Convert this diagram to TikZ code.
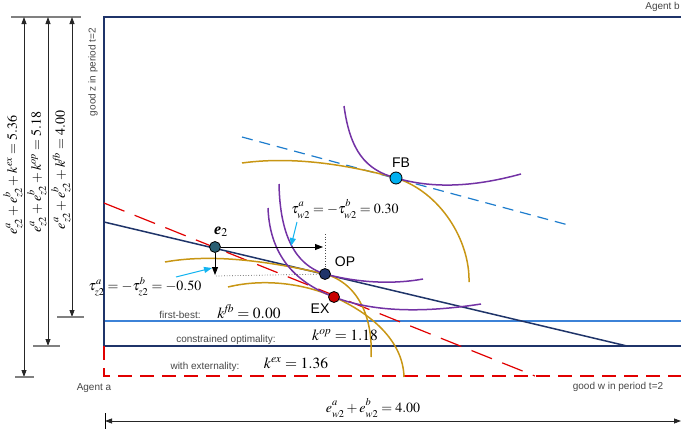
\documentclass[tikz,border=0pt]{standalone}
\usepackage[no-math]{fontspec}
\usepackage{mathptmx}
\setmainfont{Liberation Sans}
\newfontfamily\timesf{Liberation Serif}
\usetikzlibrary{arrows.meta}
\newcommand\supsub[2]{^{\raise1.5pt\hbox{$\scriptstyle #1$}}_{\lower1.5pt\hbox{$\scriptstyle #2$}}}
\definecolor{navy}{RGB}{31,52,105}
\definecolor{fbblue}{RGB}{60,130,215}
\definecolor{dashblue}{RGB}{30,125,205}
\definecolor{pur}{RGB}{115,50,165}
\definecolor{gold}{RGB}{200,150,20}
\definecolor{exred}{RGB}{225,0,0}
\definecolor{cyanarr}{RGB}{20,180,240}
\definecolor{txtgray}{RGB}{70,70,70}
\begin{document}
\begin{tikzpicture}[x=1pt,y=-1pt,
  frame/.style={navy, line width=1.6pt},
  fbline/.style={fbblue, line width=2pt},
  exline/.style={exred, line width=1.3pt, dash pattern=on 14pt off 8pt},
  exslant/.style={exred, line width=1.2pt, dash pattern=on 22pt off 11pt},
  bluedash/.style={dashblue, line width=1.2pt, dash pattern=on 11pt off 7pt},
  icb/.style={pur, line width=1.5pt},
  ica/.style={gold, line width=1.5pt},
  pt/.style={circle, draw=black, line width=0.8pt, minimum size=11pt, inner sep=0pt},
  arr/.style={black, line width=0.9pt, -{Triangle[length=8pt,width=6pt]}},
  carr/.style={cyanarr, line width=1pt, -{Triangle[length=8pt,width=6pt]}},
  dim/.style={black!85, line width=0.8pt, {Triangle[length=7pt,width=5pt]}-{Triangle[length=7pt,width=5pt]}},
  tick/.style={gray, line width=1.2pt},
  mlab/.style={font=\fontsize{14}{16}\selectfont, inner sep=0pt},
  klab/.style={font=\fontsize{15.5}{17}\selectfont, inner sep=0pt},
  slab/.style={font=\fontsize{10}{11}\selectfont, text=txtgray, inner sep=0pt},
  plab/.style={font=\fontsize{14}{16}\selectfont, inner sep=0pt}
]
\useasboundingbox (0,0) rectangle (681,434);

% coordinates
\coordinate (tl) at (104,17);
\coordinate (tr) at (681,17);
\coordinate (bl) at (104,346);
\coordinate (br) at (681,346);
\coordinate (fbl) at (104,321);
\coordinate (fbr) at (681,321);
\coordinate (exl) at (104,376);
\coordinate (exr) at (681,376);

% frame lines
\draw[fbline] (fbl) -- (fbr);
\draw[frame] (tr) -- (tl) -- (bl);
\draw[frame] (bl) -- (br);
\draw[exline] (bl) -- (exl) -- (exr);

% budget lines
\coordinate (b1) at (104,222);
\coordinate (b2) at (627,346);
\draw[navy, line width=1.5pt] (b1) -- (b2);
\coordinate (r1) at (104,203);
\coordinate (r2) at (535,376);
\draw[exslant] (r1) -- (r2);
\coordinate (d1) at (242,137);
\coordinate (d2) at (572,226);
\draw[bluedash] (d1) -- (d2);

% agent a indifference curves (gold)
\draw[ica] (242,163) .. controls (300,155) and (360,168) .. (396,178)
                     .. controls (440,192) and (470,240) .. (469,282);
\draw[ica] (165,262) .. controls (220,252) and (285,265) .. (325,274)
                     .. controls (360,284) and (373,320) .. (371,357);
\draw[ica] (228,287) .. controls (265,278) and (305,284) .. (334,297)
                     .. controls (370,313) and (403,340) .. (404,377);

% agent b indifference curves (purple)
\draw[icb] (344,106) .. controls (350,150) and (365,170) .. (396,178)
                     .. controls (430,188) and (470,188) .. (521,174);
\draw[icb] (279,184) .. controls (280,235) and (295,265) .. (325,274)
                     .. controls (355,282) and (390,285) .. (423,279);
\draw[icb] (268,208) .. controls (270,260) and (300,284) .. (334,297)
                     .. controls (365,309) and (410,315) .. (481,304);

% dotted guides
\coordinate (dv) at (325,234);
\coordinate (dh) at (216,276);

% points
\node[pt, fill={rgb,255:red,40;green,95;blue,115}] (E2) at (215,247) {};
\node[pt, fill=navy] (OP) at (325,274) {};
\node[pt, fill={rgb,255:red,200;green,0;blue,0}] (EX) at (334,297) {};
\node[pt, fill={rgb,255:red,0;green,176;blue,240}, minimum size=12pt] (FB) at (396,178) {};

\draw[black!70, line width=0.7pt, dotted] (dv) -- (OP);
\draw[black!70, line width=0.7pt, dotted] (dh) -- (OP);

% arrows from e2
\coordinate (ha) at (323,247);
\coordinate (va) at (215,275);
\draw[arr] (E2) -- (ha);
\draw[arr] (E2) -- (va);

% cyan pointers
\coordinate (c1s) at (297,222);
\coordinate (c1e) at (291,246);
\coordinate (c2s) at (176,277);
\coordinate (c2e) at (212,268);
\draw[carr] (c1s) -- (c1e);
\draw[carr] (c2s) -- (c2e);

% point labels
\node[plab] (lFB) at (401,163) {FB};
\node[plab] (lOP) at (345,262) {OP};
\node[plab] (lEX) at (320,309) {EX};
\node[inner sep=0pt, font=\fontsize{16}{18}\selectfont] (le2) at (221,232) {{\timesf\bfseries\itshape e}$_2$};

% tau labels
\node[mlab] (tw) at (345,209) {$\tau\supsub{a}{w2}=-\tau\supsub{b}{w2}=0.30$};
\node[mlab] (tz) at (145,287) {$\tau\supsub{a}{z2}=-\tau\supsub{b}{z2}=-0.50$};

% k labels
\node[slab] (sfb) at (180,315) {first-best:};
\node[klab] (kfb) at (249,312) {$k^{\mathit{fb}}=0.00$};
\node[slab] (sop) at (226,340) {constrained optimality:};
\node[klab] (kop) at (345,335) {$k^{\mathit{op}}=1.18$};
\node[slab] (sex) at (205,367) {with externality:};
\node[klab] (kex) at (296,363) {$k^{\mathit{ex}}=1.36$};

% axis labels
\node[slab, anchor=east] (ab) at (680,7) {Agent b};
\node[slab] (aa) at (94,388) {Agent a};
\node[slab] (gw) at (618,387) {good w in period t=2};
\node[slab, rotate=90] (gz) at (93,72) {good z in period t=2};

% bottom dimension
\coordinate (bw1) at (105,421);
\coordinate (bw2) at (681,421);
\coordinate (bt1) at (105,413);
\coordinate (bt2) at (105,429);
\draw[dim] (bw1) -- (bw2);
\draw[black, line width=1pt] (bt1) -- (bt2);
\node[mlab] (ew) at (373,408) {$e\supsub{a}{w2}+e\supsub{b}{w2}=4.00$};

% left dimensions
\coordinate (tt1) at (11,17);
\coordinate (tt2) at (81,17);
\draw[tick] (tt1) -- (tt2);
\coordinate (a1t) at (24,17);
\coordinate (a1b) at (24,377);
\coordinate (a2t) at (48,17);
\coordinate (a2b) at (48,346);
\coordinate (a3t) at (72,17);
\coordinate (a3b) at (72,317);
\draw[dim] (a1b) -- (a1t);
\draw[dim] (a2b) -- (a2t);
\draw[dim] (a3b) -- (a3t);
\coordinate (k1a) at (15,377);
\coordinate (k1b) at (34,377);
\coordinate (k2a) at (33,346);
\coordinate (k2b) at (60,346);
\coordinate (k3a) at (57,317);
\coordinate (k3b) at (84,317);
\draw[tick] (k1a) -- (k1b);
\draw[tick] (k2a) -- (k2b);
\draw[tick] (k3a) -- (k3b);
\node[mlab, rotate=90] (l1) at (13,175) {$e\supsub{a}{z2}+e\supsub{b}{z2}+k^{\mathit{ex}}=5.36$};
\node[mlab, rotate=90] (l2) at (37,172) {$e\supsub{a}{z2}+e\supsub{b}{z2}+k^{\mathit{op}}=5.18$};
\node[mlab, rotate=90] (l3) at (61,170) {$e\supsub{a}{z2}+e\supsub{b}{z2}+k^{\mathit{fb}}=4.00$};
\end{tikzpicture}
\end{document}
